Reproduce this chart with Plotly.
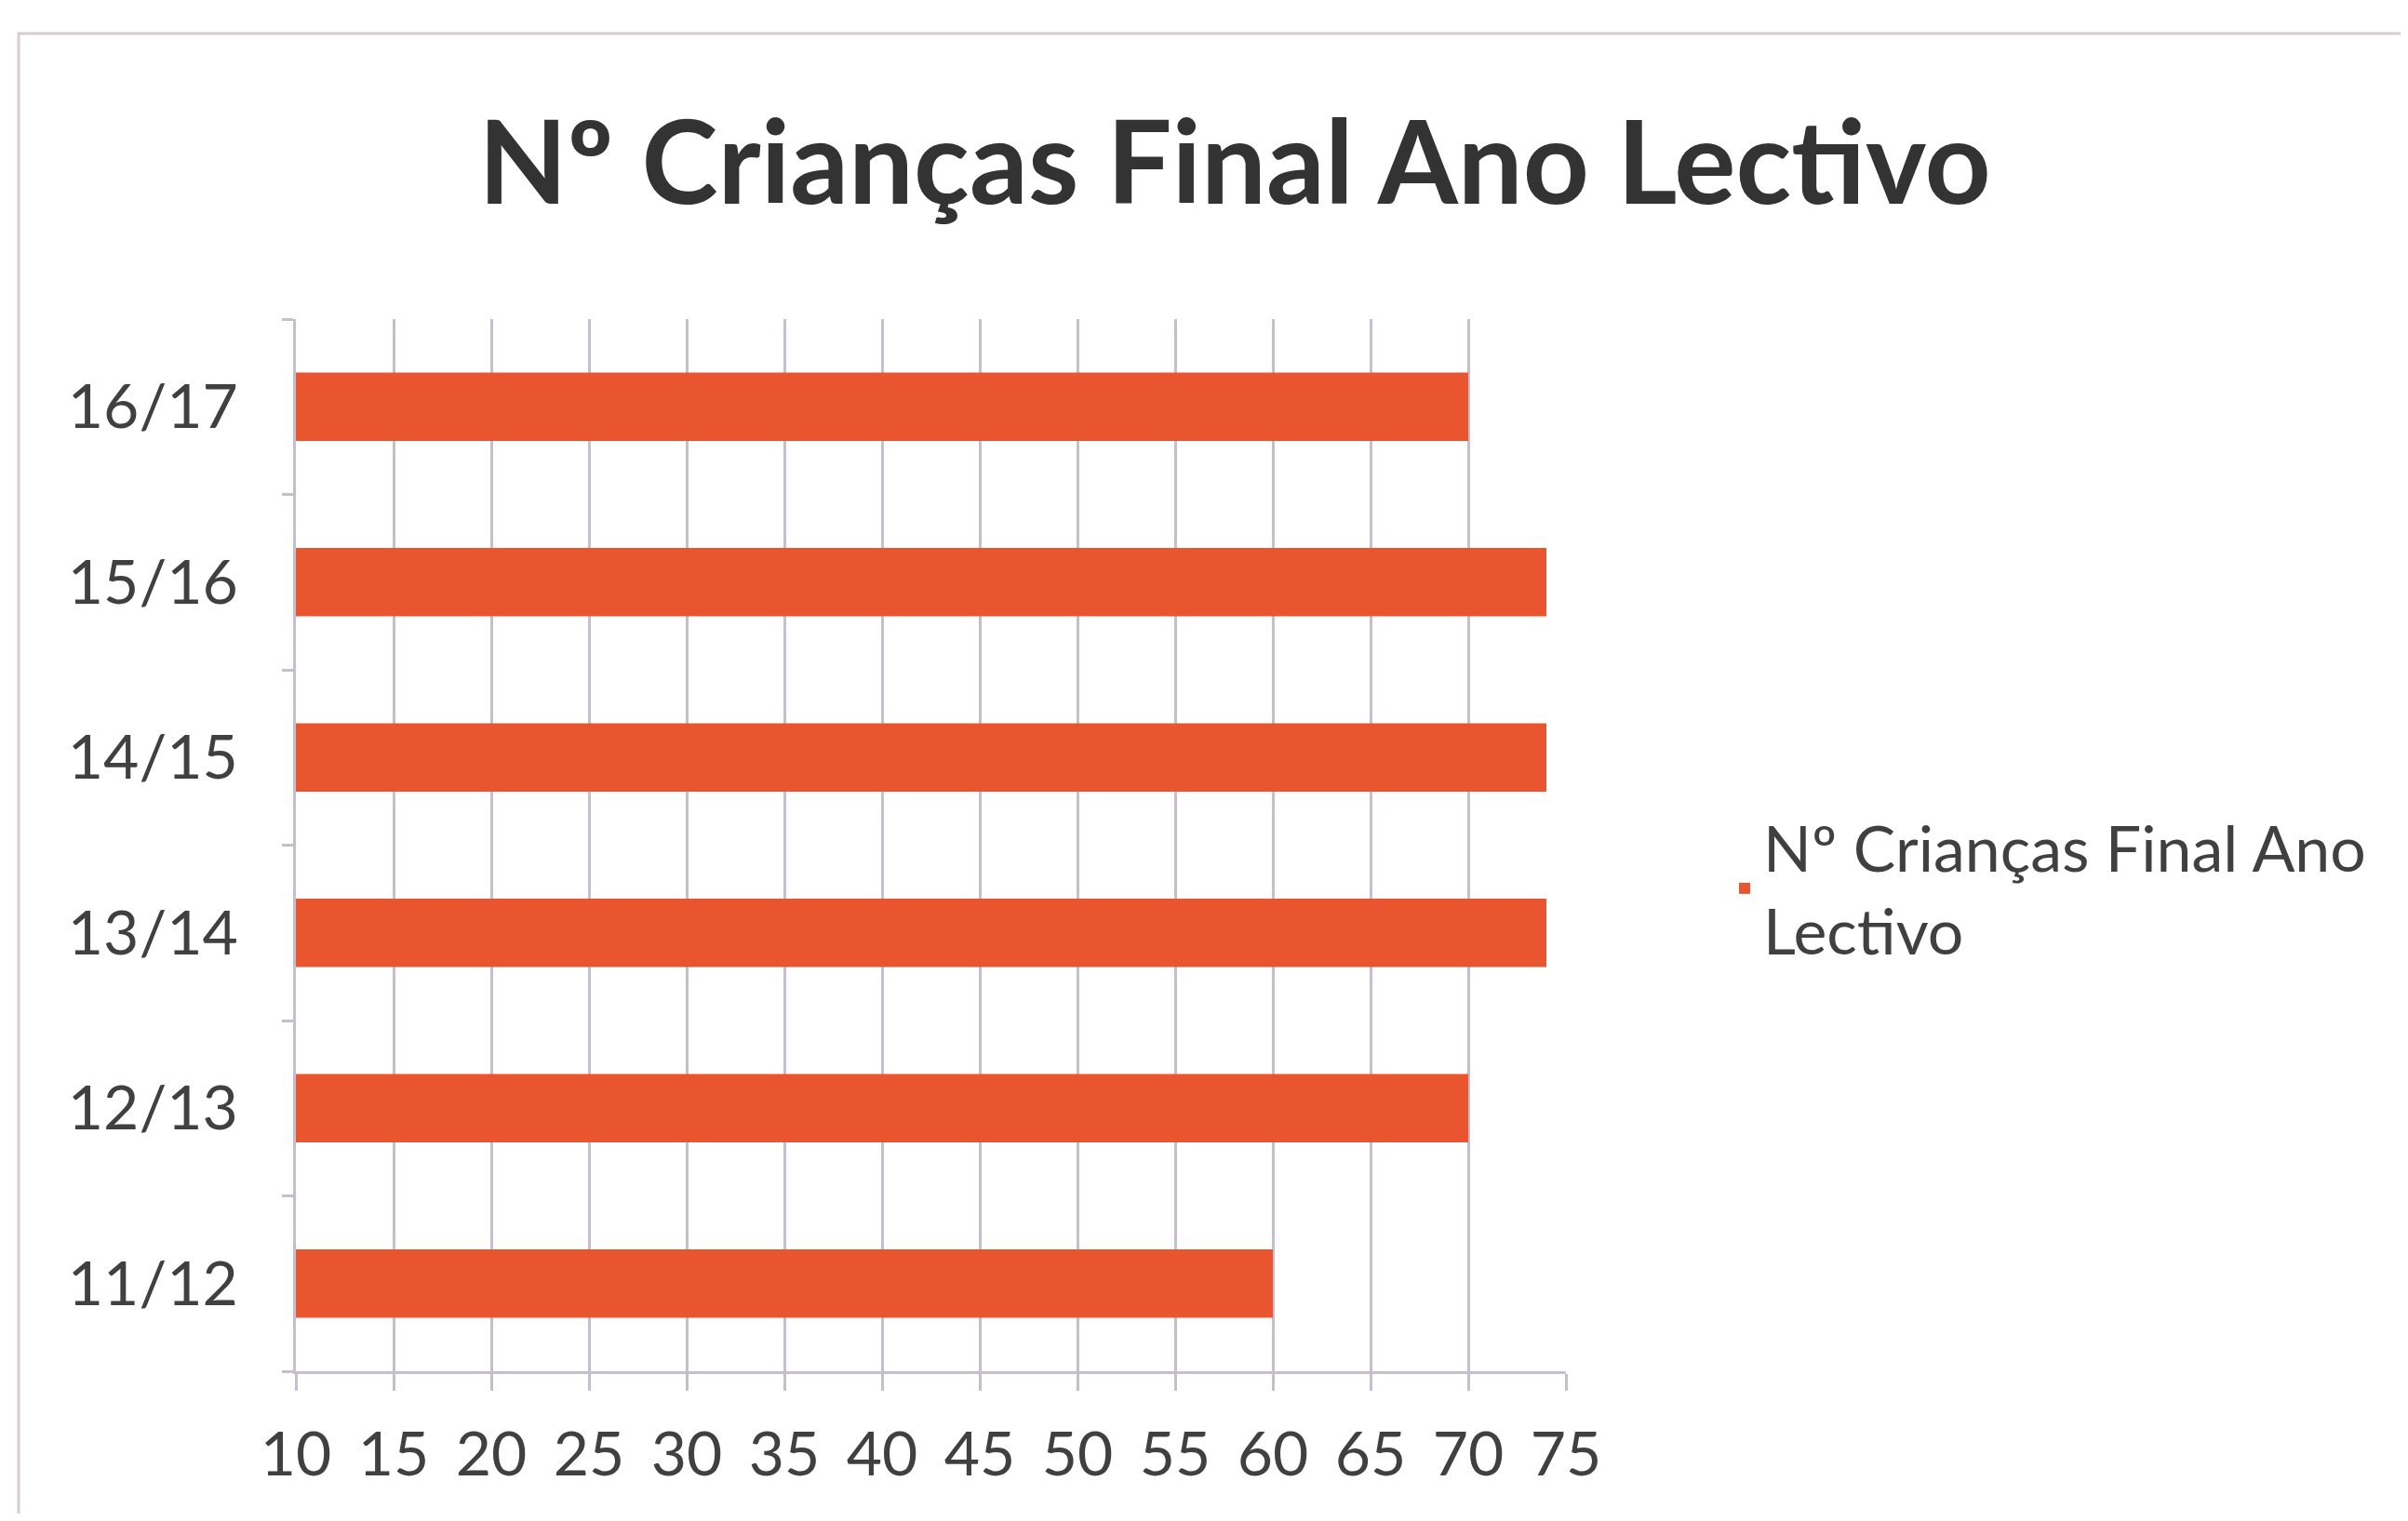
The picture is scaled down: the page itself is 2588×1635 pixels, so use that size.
import plotly.graph_objects as go

# Data
anos = ["11/12", "12/13", "13/14", "14/15", "15/16", "16/17"]
criancas = [60, 70, 74, 74, 74, 70]
serie_nome = "Nº Crianças Final Ano<br>Lectivo"
titulo = "Nº Crianças Final Ano Lectivo"

BAR_COLOR = "#E9552E"
GRID_COLOR = "#C6BDCE"
TEXT_COLOR = "#404040"
FONT = "Lato, 'Open Sans', sans-serif"

# the page body has an 8px margin, so work in screen pixels minus that
OFF = 8
W, H = 2588 - 2 * OFF, 1635 - 2 * OFF
# plot area in screen pixels (matches the reference)
L, R, T, B = 318 - OFF, 1683 - OFF, 343 - OFF, 1474 - OFF


def px_x(sx):
    return (sx - OFF - L) / (R - L)


def px_y(sy):
    return (B - (sy - OFF)) / (B - T)


fig = go.Figure()
fig.add_trace(
    go.Bar(
        y=anos,
        x=criancas,
        orientation="h",
        name=serie_nome,
        marker={"color": BAR_COLOR, "line": {"width": 0}},
        showlegend=True,
    )
)

fig.update_layout(
    width=W,
    height=H,
    paper_bgcolor="white",
    plot_bgcolor="white",
    margin={"l": L, "r": W - R, "t": T, "b": H - B, "autoexpand": False},
    bargap=0.61,
    font={"family": FONT, "color": TEXT_COLOR},
    title={
        "text": f"<b>{titulo}</b>",
        "x": (1327 - OFF) / W,
        "xanchor": "center",
        "y": 1 - (176 - OFF) / H,
        "yanchor": "middle",
        "font": {"size": 124, "color": "#333333", "family": FONT},
    },
    legend={
        "x": px_x(1855),
        "xanchor": "left",
        "y": px_y(955),
        "yanchor": "middle",
        "font": {"size": 68, "color": TEXT_COLOR},
        "bgcolor": "rgba(0,0,0,0)",
    },
    xaxis={
        "range": [10, 75],
        "tick0": 10,
        "dtick": 5,
        "showgrid": True,
        "gridcolor": GRID_COLOR,
        "gridwidth": 3,
        "showline": True,
        "linecolor": GRID_COLOR,
        "linewidth": 3,
        "ticks": "outside",
        "ticklen": 18,
        "tickwidth": 3,
        "tickcolor": GRID_COLOR,
        "tickfont": {"size": 66, "color": TEXT_COLOR},
        "ticklabelstandoff": 12,
        "zeroline": False,
        "fixedrange": True,
    },
    yaxis={
        "categoryorder": "array",
        "categoryarray": anos,
        "showgrid": False,
        "showline": True,
        "linecolor": GRID_COLOR,
        "linewidth": 3,
        "ticks": "outside",
        "tickson": "boundaries",
        "ticklen": 12,
        "tickwidth": 3,
        "tickcolor": GRID_COLOR,
        "tickfont": {"size": 66, "color": TEXT_COLOR},
        "ticklabelstandoff": 46,
        "fixedrange": True,
    },
)

# outer chart border, as in the source screenshot
fig.add_shape(
    type="rect",
    xref="paper",
    yref="paper",
    x0=px_x(20),
    x1=px_x(2620),
    y0=px_y(1670),
    y1=px_y(36),
    line={"color": "#D9CBD3", "width": 3},
    fillcolor="rgba(0,0,0,0)",
    layer="below",
)

fig.write_html("out.html")
